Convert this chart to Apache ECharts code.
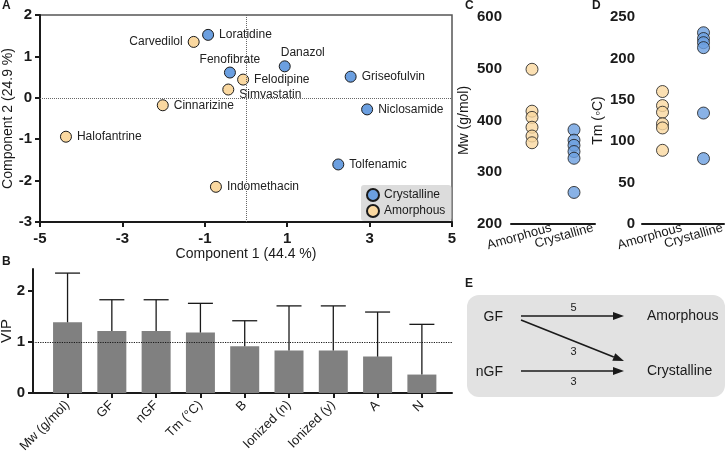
<!DOCTYPE html>
<html>
<head>
<meta charset="utf-8">
<script src="https://cdn.jsdelivr.net/npm/echarts@6/dist/echarts.min.js"></script>
<style>
html,body{margin:0;padding:0;background:#fff;}
#chart{width:728px;height:456px;}
</style>
</head>
<body>
<div id="chart"></div>
<script>
// ---------- Panel A: PLS-DA scores ----------
const crystNames = ['Loratidine','Fenofibrate','Danazol','Griseofulvin','Niclosamide','Tolfenamic'];
const crystC1 = [-0.92,-0.39,0.94,2.54,2.94,2.24];
const crystC2 = [1.52,0.61,0.76,0.51,-0.28,-1.61];
const amorNames = ['Carvedilol','Felodipine','Simvastatin','Cinnarizine','Halofantrine','Indomethacin'];
const amorC1 = [-1.27,-0.07,-0.43,-2.02,-4.37,-0.73];
const amorC2 = [1.35,0.44,0.20,-0.18,-0.94,-2.15];
const xTitleA = 'Component 1 (44.4 %)';
const yTitleA = 'Component 2 (24.9 %)';

// ---------- Panel B: VIP ----------
const vipCategories = ['Mw (g/mol)','GF','nGF','Tm (°C)','B','Ionized (n)','Ionized (y)','A','N'];
const vipValues = [1.38,1.21,1.21,1.18,0.91,0.83,0.83,0.71,0.36];
const vipErrTop = [2.34,1.82,1.82,1.75,1.41,1.70,1.70,1.58,1.34];
const vipTicks = [0,1,2];

// ---------- Panels C, D ----------
const groups = ['Amorphous','Crystalline'];
const mwAmorphous = [499,418,406,387,370,357];
const mwCrystalline = [382,362,352,340,327,261];
const tmAmorphous = [160,143,135,121,116,89];
const tmCrystalline = [231,224,219,213,134,79];

// ---------- Panel E ----------
const transitions = [
  {from:'GF', to:'Amorphous', n:5},
  {from:'GF', to:'Crystalline', n:3},
  {from:'nGF', to:'Crystalline', n:3}
];

const FONT = 'Liberation Sans, Arial, sans-serif';
const BLUE = '#6b9fe0';
const ORANGE = '#fad8a0';
const INK = '#1a1a1a';

const labelPlace = {
  Carvedilol:{position:'left'},
  Fenofibrate:{position:'top', distance:1},
  Danazol:{position:'top', distance:2, offset:[18,0]},
  Simvastatin:{position:'right', offset:[0,5]}
};

function scoreData(names, c1, c2){
  return names.map((n,i)=>{
    const p = labelPlace[n] || {position:'right'};
    return {name:n, value:[c1[i], c2[i]], label:Object.assign({}, p)};
  });
}

const axisLineStyle = {color:INK, width:2};
const tickLabel = {color:INK, fontSize:15, fontWeight:'bold', fontFamily:FONT};

const chart = echarts.init(document.getElementById('chart'), null, {renderer:'canvas'});

// Panel E graphics
const nodePos = {
  GF:{x:503, y:317}, nGF:{x:503, y:372},
  Amorphous:{x:647, y:316}, Crystalline:{x:647, y:371}
};
const eGraphics = [];
eGraphics.push({type:'rect', shape:{x:467, y:295, width:258, height:102, r:12}, style:{fill:'#e2e2e2'}, z:0});
['GF','nGF'].forEach(k=>eGraphics.push({type:'text', x:nodePos[k].x, y:nodePos[k].y, style:{text:k, font:'14px '+FONT, fill:INK, align:'right', verticalAlign:'middle'}, z:2}));
['Amorphous','Crystalline'].forEach(k=>eGraphics.push({type:'text', x:nodePos[k].x, y:nodePos[k].y, style:{text:k, font:'14px '+FONT, fill:INK, align:'left', verticalAlign:'middle'}, z:2}));
transitions.forEach(t=>{
  const a = nodePos[t.from], b = nodePos[t.to];
  const x1 = a.x + 18, x2 = b.x - 23;
  const diag = Math.abs(a.y - b.y) > 5;
  const y1 = diag ? a.y + 3 : b.y;
  const y2 = diag ? b.y - 10 : b.y;
  const ang = Math.atan2(y2 - y1, x2 - x1);
  const L = 11, W = 4;
  const bx = x2 - L*Math.cos(ang), by = y2 - L*Math.sin(ang);
  eGraphics.push({type:'line', shape:{x1:x1, y1:y1, x2:bx, y2:by}, style:{stroke:INK, lineWidth:1.6}, z:2});
  eGraphics.push({type:'polygon', shape:{points:[[x2,y2],[bx - W*Math.sin(ang), by + W*Math.cos(ang)],[bx + W*Math.sin(ang), by - W*Math.cos(ang)]]}, style:{fill:INK}, z:2});
  const mx = (x1 + x2)/2 + 1;
  const above = (t.to === 'Amorphous');
  const my = above ? y1 - 8 : ((y1 + y2)/2 + 11);
  eGraphics.push({type:'text', x:mx, y:my, style:{text:String(t.n), font:'11px '+FONT, fill:INK, align:'center', verticalAlign:'middle'}, z:2});
});
// panel letters
[['A',2,0],['B',2,256],['C',465,0],['D',592,0],['E',465,278]].forEach(l=>{
  eGraphics.push({type:'text', x:l[1], y:l[2], style:{text:l[0], font:'bold 12px '+FONT, fill:INK}, z:3});
});

const catLabel = {rotate:16, margin:9, fontSize:13, color:INK, fontFamily:FONT, padding:[0,-20,0,0], interval:0, hideOverlap:false};
const nameBase = {nameLocation:'middle', nameRotate:90, nameMoveOverlap:false};

const option = {
  animation:false,
  backgroundColor:'#ffffff',
  textStyle:{fontFamily:FONT},
  legend:{
    data:['Crystalline','Amorphous'],
    orient:'vertical', left:361, top:185,
    backgroundColor:'#dcdcdc', borderRadius:3,
    padding:[3,6,3,5], itemGap:2, itemWidth:12, itemHeight:12,
    icon:'circle',
    textStyle:{color:INK, fontSize:12, fontFamily:FONT},
    selectedMode:false
  },
  grid:[
    {left:40, top:15, width:412, height:207, show:true, borderColor:'#555', borderWidth:1.5, backgroundColor:'transparent', outerBoundsMode:'none', containLabel:false},
    {left:33, top:269, width:419, height:124, outerBoundsMode:'none', containLabel:false},
    {left:511, top:17, width:84, height:207, outerBoundsMode:'none', containLabel:false},
    {left:642, top:17, width:82, height:207, outerBoundsMode:'none', containLabel:false}
  ],
  xAxis:[
    {gridIndex:0, type:'value', min:-5, max:5, interval:2,
     name:xTitleA, nameLocation:'middle', nameGap:25, nameMoveOverlap:false,
     nameTextStyle:{fontSize:14, color:INK, fontFamily:FONT},
     axisLine:{onZero:false, lineStyle:axisLineStyle},
     axisTick:{length:5, lineStyle:{color:INK, width:2}},
     axisLabel:Object.assign({margin:9}, tickLabel),
     splitLine:{show:false}},
    {gridIndex:1, type:'value', min:0.22, max:9.68,
     axisLine:{onZero:false, lineStyle:axisLineStyle},
     axisTick:{length:5, lineStyle:{color:INK, width:2}, customValues:[1,2,3,4,5,6,7,8,9]},
     axisLabel:{customValues:[1,2,3,4,5,6,7,8,9], rotate:45, margin:10, fontSize:13, color:INK, fontFamily:FONT,
       formatter:(v)=>vipCategories[Math.round(v)-1]},
     splitLine:{show:false}},
    {gridIndex:2, type:'category', data:groups, boundaryGap:true,
     axisLine:{lineStyle:axisLineStyle},
     axisTick:{alignWithLabel:true, interval:0, length:5, lineStyle:{color:INK, width:2}},
     axisLabel:catLabel,
     splitLine:{show:false}},
    {gridIndex:3, type:'category', data:groups, boundaryGap:true,
     axisLine:{lineStyle:axisLineStyle},
     axisTick:{alignWithLabel:true, interval:0, length:5, lineStyle:{color:INK, width:2}},
     axisLabel:catLabel,
     splitLine:{show:false}}
  ],
  yAxis:[
    Object.assign({gridIndex:0, type:'value', min:-3, max:2, interval:1,
     name:yTitleA, nameGap:25,
     nameTextStyle:{fontSize:14, color:INK, fontFamily:FONT},
     axisLine:{onZero:false, lineStyle:axisLineStyle},
     axisTick:{length:5, lineStyle:{color:INK, width:2}},
     axisLabel:Object.assign({margin:8}, tickLabel),
     splitLine:{show:false}}, nameBase),
    Object.assign({gridIndex:1, type:'value', min:0, max:2.42,
     name:'VIP', nameGap:19,
     nameTextStyle:{fontSize:15, color:INK, fontFamily:FONT},
     axisLine:{onZero:false, lineStyle:axisLineStyle},
     axisTick:{length:5, lineStyle:{color:INK, width:2}, customValues:vipTicks},
     axisLabel:Object.assign({margin:8, customValues:vipTicks}, tickLabel),
     splitLine:{show:false}}, nameBase),
    Object.assign({gridIndex:2, type:'value', min:200, max:600, interval:100,
     name:'Mw (g/mol)', nameGap:40,
     nameTextStyle:{fontSize:14, color:INK, fontFamily:FONT},
     axisLine:{onZero:false, lineStyle:axisLineStyle},
     axisTick:{length:5, lineStyle:{color:INK, width:2}},
     axisLabel:Object.assign({margin:9}, tickLabel),
     splitLine:{show:false}}, nameBase),
    Object.assign({gridIndex:3, type:'value', min:0, max:250, interval:50,
     name:'Tm (◦C)', nameGap:37,
     nameTextStyle:{fontSize:14, color:INK, fontFamily:FONT},
     axisLine:{onZero:false, lineStyle:axisLineStyle},
     axisTick:{length:5, lineStyle:{color:INK, width:2}},
     axisLabel:Object.assign({margin:7}, tickLabel),
     splitLine:{show:false}}, nameBase)
  ],
  series:[
    {name:'Amorphous', type:'scatter', xAxisIndex:0, yAxisIndex:0, symbolSize:11,
     itemStyle:{color:ORANGE, borderColor:INK, borderWidth:1, opacity:1},
     label:{show:true, formatter:'{b}', fontSize:12, color:'#222', fontFamily:FONT},
     data:scoreData(amorNames, amorC1, amorC2),
     markLine:{silent:true, symbol:'none', label:{show:false},
       lineStyle:{type:'dotted', color:'#666', width:1},
       data:[{xAxis:0},{yAxis:0}]}, z:3},
    {name:'Crystalline', type:'scatter', xAxisIndex:0, yAxisIndex:0, symbolSize:11,
     itemStyle:{color:BLUE, borderColor:INK, borderWidth:1, opacity:1},
     label:{show:true, formatter:'{b}', fontSize:12, color:'#222', fontFamily:FONT},
     data:scoreData(crystNames, crystC1, crystC2), z:3},
    {name:'VIP', type:'bar', xAxisIndex:1, yAxisIndex:1, barWidth:29,
     itemStyle:{color:'#808080'},
     data:vipValues.map((v,i)=>[i+1, v]),
     markLine:{silent:true, symbol:'none', label:{show:false},
       lineStyle:{type:'dotted', color:INK, width:1.2},
       data:[{yAxis:1}]}, z:2},
    {name:'VIP error', type:'custom', xAxisIndex:1, yAxisIndex:1,
     data:vipValues.map((v,i)=>[i+1, v, vipErrTop[i]]),
     renderItem:(params, api)=>{
       const x = api.value(0), v = api.value(1), e = api.value(2);
       const p0 = api.coord([x, v]), p1 = api.coord([x, e]);
       const hw = 12.5;
       const st = {stroke:INK, lineWidth:1.3};
       return {type:'group', children:[
         {type:'line', shape:{x1:p0[0], y1:p0[1], x2:p1[0], y2:p1[1]}, style:st},
         {type:'line', shape:{x1:p1[0]-hw, y1:p1[1], x2:p1[0]+hw, y2:p1[1]}, style:st}
       ]};
     }, z:4},
    {name:'Amorphous', type:'scatter', xAxisIndex:2, yAxisIndex:2, symbolSize:12,
     itemStyle:{color:ORANGE, borderColor:INK, borderWidth:1},
     data:mwAmorphous.map(v=>['Amorphous', v])},
    {name:'Crystalline', type:'scatter', xAxisIndex:2, yAxisIndex:2, symbolSize:12,
     itemStyle:{color:BLUE, borderColor:INK, borderWidth:1},
     data:mwCrystalline.map(v=>['Crystalline', v])},
    {name:'Amorphous', type:'scatter', xAxisIndex:3, yAxisIndex:3, symbolSize:12,
     itemStyle:{color:ORANGE, borderColor:INK, borderWidth:1},
     data:tmAmorphous.map(v=>['Amorphous', v])},
    {name:'Crystalline', type:'scatter', xAxisIndex:3, yAxisIndex:3, symbolSize:12,
     itemStyle:{color:BLUE, borderColor:INK, borderWidth:1},
     data:tmCrystalline.map(v=>['Crystalline', v])}
  ],
  graphic:eGraphics
};
chart.setOption(option);
</script>
</body>
</html>
